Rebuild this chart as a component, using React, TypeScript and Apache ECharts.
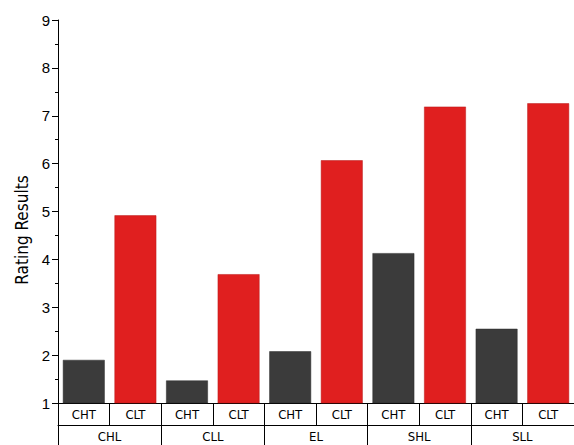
import React, { useEffect, useRef } from "react";
import * as echarts from "echarts";

const groups = ["CHL", "CLL", "EL", "SHL", "SLL"];
const subLabels = ["CHT", "CLT"];
const chtValues = [1.9, 1.47, 2.08, 4.13, 2.55];
const cltValues = [4.92, 3.69, 6.07, 7.19, 7.26];
const yTicks = [1, 9, 1]; // min, max, interval

const CHT_COLOR = "#3b3b3b";
const CLT_COLOR = "#e01f1f";

export default function App() {
  const ref = useRef<HTMLDivElement>(null);
  useEffect(() => {
    if (!ref.current) return;
    const chart = echarts.init(ref.current, undefined, { renderer: "svg" });
    const cells: string[] = [];
    const data: any[] = [];
    groups.forEach((g, i) => {
      cells.push(subLabels[0], subLabels[1]);
      data.push({ value: chtValues[i], itemStyle: { color: CHT_COLOR, borderColor: "#2a2a2a", borderWidth: 0.5 } });
      data.push({ value: cltValues[i], itemStyle: { color: CLT_COLOR, borderColor: "#b81818", borderWidth: 0.5 } });
    });
    const font = "'DejaVu Sans Condensed', 'Liberation Sans Narrow', 'Liberation Sans', sans-serif";
    chart.setOption({
      animation: false,
      backgroundColor: "#fff",
      grid: { left: 58, top: 20, width: 520, height: 383 },
      xAxis: [
        {
          type: "category",
          data: cells.map((c, i) => c + "\u200b".repeat(i)),
          position: "bottom",
          axisLine: { show: true, lineStyle: { color: "#000", width: 1 } },
          axisTick: { show: true, interval: 0, length: 22, lineStyle: { color: "#000", width: 1 } },
          axisLabel: {
            interval: 0,
            margin: 5,
            fontSize: 13,
            color: "#000",
            fontFamily: font,
            formatter: (v: string) => v.replace(/\u200b/g, ""),
          },
        },
        {
          type: "category",
          data: groups,
          position: "bottom",
          offset: 22,
          axisLine: { show: true, lineStyle: { color: "#000", width: 1 } },
          axisTick: { show: true, interval: 0, length: 22, lineStyle: { color: "#000", width: 1 } },
          axisLabel: { interval: 0, margin: 5, fontSize: 13, color: "#000", fontFamily: font },
        },
      ],
      yAxis: {
        type: "value",
        min: yTicks[0],
        max: yTicks[1],
        interval: yTicks[2],
        axisLine: { show: true, lineStyle: { color: "#000", width: 1 } },
        axisTick: { show: true, length: 6, lineStyle: { color: "#000" } },
        minorTick: { show: true, splitNumber: 2, length: 3, lineStyle: { color: "#000" } },
        splitLine: { show: false },
        axisLabel: { fontSize: 15, color: "#000", margin: 8, fontFamily: "'Liberation Sans', Arial, sans-serif" },
      },
      graphic: [
        {
          type: "text",
          x: 22,
          y: 230,
          rotation: Math.PI / 2,
          style: {
            text: "Rating Results",
            fontSize: 17,
            fontFamily: font,
            fill: "#000",
            align: "center",
            verticalAlign: "middle",
          },
        },
      ],
      series: [
        {
          type: "bar",
          xAxisIndex: 0,
          data,
          barWidth: "81%",
        },
      ],
    });
    return () => chart.dispose();
  }, []);
  return <div ref={ref} style={{ width: 574, height: 445, position: "fixed", left: 0, top: 0 }} />;
}
